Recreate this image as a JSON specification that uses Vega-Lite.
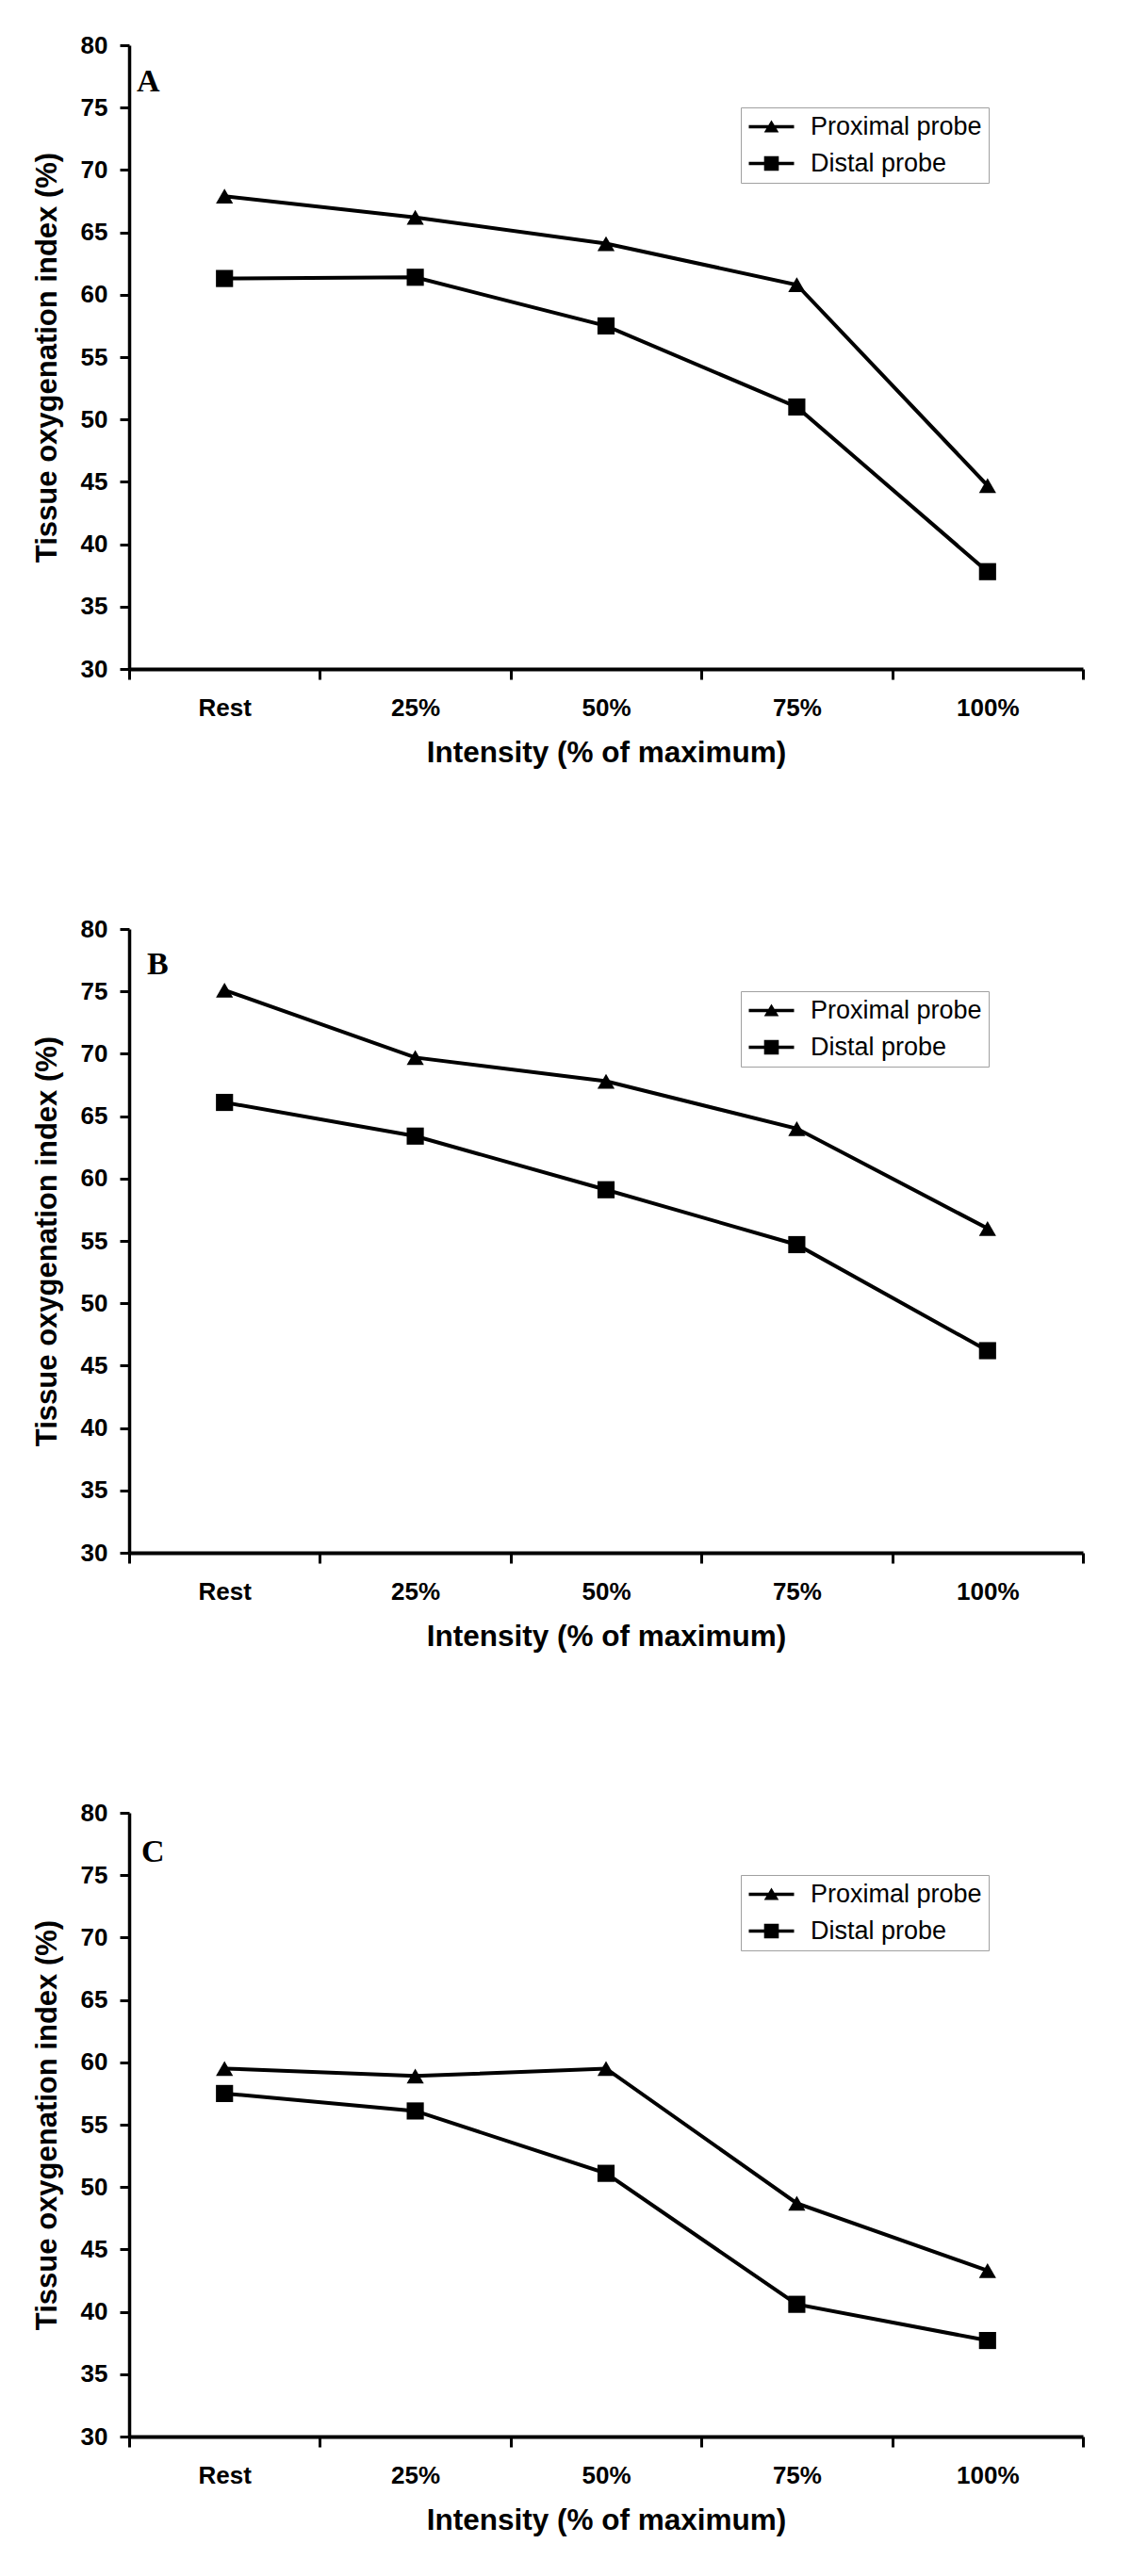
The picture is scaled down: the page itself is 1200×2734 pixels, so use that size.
{
  "$schema": "https://vega.github.io/schema/vega-lite/v6.json",
  "background": "white",
  "padding": {"left": 34, "top": 35, "right": 5, "bottom": 5},
  "data": {"values": [
    {"panel": "A", "intensity": "Rest", "probe": "Proximal probe", "value": 67.9},
    {"panel": "A", "intensity": "25%", "probe": "Proximal probe", "value": 66.2},
    {"panel": "A", "intensity": "50%", "probe": "Proximal probe", "value": 64.1},
    {"panel": "A", "intensity": "75%", "probe": "Proximal probe", "value": 60.8},
    {"panel": "A", "intensity": "100%", "probe": "Proximal probe", "value": 44.7},
    {"panel": "A", "intensity": "Rest", "probe": "Distal probe", "value": 61.3},
    {"panel": "A", "intensity": "25%", "probe": "Distal probe", "value": 61.4},
    {"panel": "A", "intensity": "50%", "probe": "Distal probe", "value": 57.5},
    {"panel": "A", "intensity": "75%", "probe": "Distal probe", "value": 51.0},
    {"panel": "A", "intensity": "100%", "probe": "Distal probe", "value": 37.8},
    {"panel": "B", "intensity": "Rest", "probe": "Proximal probe", "value": 75.1},
    {"panel": "B", "intensity": "25%", "probe": "Proximal probe", "value": 69.7},
    {"panel": "B", "intensity": "50%", "probe": "Proximal probe", "value": 67.8},
    {"panel": "B", "intensity": "75%", "probe": "Proximal probe", "value": 64.0},
    {"panel": "B", "intensity": "100%", "probe": "Proximal probe", "value": 56.0},
    {"panel": "B", "intensity": "Rest", "probe": "Distal probe", "value": 66.1},
    {"panel": "B", "intensity": "25%", "probe": "Distal probe", "value": 63.4},
    {"panel": "B", "intensity": "50%", "probe": "Distal probe", "value": 59.1},
    {"panel": "B", "intensity": "75%", "probe": "Distal probe", "value": 54.7},
    {"panel": "B", "intensity": "100%", "probe": "Distal probe", "value": 46.2},
    {"panel": "C", "intensity": "Rest", "probe": "Proximal probe", "value": 59.5},
    {"panel": "C", "intensity": "25%", "probe": "Proximal probe", "value": 58.9},
    {"panel": "C", "intensity": "50%", "probe": "Proximal probe", "value": 59.5},
    {"panel": "C", "intensity": "75%", "probe": "Proximal probe", "value": 48.7},
    {"panel": "C", "intensity": "100%", "probe": "Proximal probe", "value": 43.3},
    {"panel": "C", "intensity": "Rest", "probe": "Distal probe", "value": 57.5},
    {"panel": "C", "intensity": "25%", "probe": "Distal probe", "value": 56.1},
    {"panel": "C", "intensity": "50%", "probe": "Distal probe", "value": 51.1},
    {"panel": "C", "intensity": "75%", "probe": "Distal probe", "value": 40.6},
    {"panel": "C", "intensity": "100%", "probe": "Distal probe", "value": 37.7}
  ]},
  "resolve": {"scale": {"shape": "independent"}, "legend": {"shape": "independent"}},
  "config": {
    "view": {"stroke": null},
    "font": "Liberation Sans",
    "concat": {"spacing": 158},
    "axis": {
      "grid": false,
      "domainColor": "black",
      "tickColor": "black",
      "tickWidth": 3,
      "labelColor": "black",
      "labelFont": "Liberation Sans",
      "labelFontWeight": "bold",
      "labelFontSize": 26,
      "titleColor": "black",
      "titleFont": "Liberation Sans",
      "titleFontWeight": "bold"
    },
    "axisX": {"domainWidth": 4, "tickSize": 11, "labelPadding": 17, "titlePadding": 19, "titleFontSize": 31.5, "labelAngle": 0, "tickBand": "extent"},
    "axisY": {"domainWidth": 3.5, "tickSize": 10, "labelPadding": 13, "titlePadding": 19, "titleFontSize": 31},
    "title": {"anchor": "start", "frame": "group", "font": "Liberation Serif", "fontWeight": "bold", "fontSize": 34, "color": "black", "baseline": "alphabetic", "offset": 0},
    "legend": {"orient": "none", "legendX": 649, "legendY": 66, "labelFont": "Liberation Sans", "labelFontSize": 27, "labelColor": "black", "labelLimit": 0, "strokeColor": "#a0a0a0", "fillColor": "white", "padding": 7, "rowPadding": 11, "labelOffset": 28, "symbolSize": 576, "symbolStrokeWidth": 0, "symbolOffset": 12, "symbolOpacity": 1, "symbolFillColor": "black", "symbolStrokeColor": "black"}
  },
  "vconcat": [
    {
      "width": 1012, "height": 662,
      "title": {"text": "A", "dx": 8, "dy": 73},
      "transform": [{"filter": "datum.panel === 'A'"}],
      "encoding": {
        "x": {"field": "intensity", "type": "nominal", "sort": ["Rest", "25%", "50%", "75%", "100%"], "scale": {"type": "band", "paddingInner": 0, "paddingOuter": 0}, "axis": {"title": "Intensity (% of maximum)"}},
        "y": {"field": "value", "type": "quantitative", "scale": {"domain": [30, 80], "nice": false, "zero": false}, "axis": {"values": [30, 35, 40, 45, 50, 55, 60, 65, 70, 75, 80], "title": "Tissue oxygenation index (%)"}}
      },
      "resolve": {"scale": {"shape": "independent"}, "legend": {"shape": "independent"}},
      "layer": [
        {"mark": {"type": "line", "color": "black", "strokeWidth": 4}, "encoding": {"detail": {"field": "probe"}}},
        {"mark": {"type": "point", "filled": true, "color": "black", "opacity": 1, "size": 330},
         "encoding": {"shape": {"field": "probe", "type": "nominal", "scale": {"domain": ["Proximal probe", "Distal probe"], "range": ["triangle-up", "square"]}, "legend": null}}},
        {"mark": {"type": "point", "filled": true, "color": "black", "opacity": 0, "size": 576},
         "encoding": {"shape": {"field": "probe", "type": "nominal", "scale": {"domain": ["Proximal probe", "Distal probe"], "range": ["M-2,-0.14H2V0.14H-2ZM0,-0.58L0.65,0.5H-0.65Z", "M-2,-0.14H2V0.14H-2ZM-0.65,-0.65H0.65V0.65H-0.65Z"]},
           "legend": {"title": null}}}}
      ]
    },
    {
      "width": 1012, "height": 662,
      "title": {"text": "B", "dx": 19, "dy": 72},
      "transform": [{"filter": "datum.panel === 'B'"}],
      "encoding": {
        "x": {"field": "intensity", "type": "nominal", "sort": ["Rest", "25%", "50%", "75%", "100%"], "scale": {"type": "band", "paddingInner": 0, "paddingOuter": 0}, "axis": {"title": "Intensity (% of maximum)"}},
        "y": {"field": "value", "type": "quantitative", "scale": {"domain": [30, 80], "nice": false, "zero": false}, "axis": {"values": [30, 35, 40, 45, 50, 55, 60, 65, 70, 75, 80], "title": "Tissue oxygenation index (%)"}}
      },
      "resolve": {"scale": {"shape": "independent"}, "legend": {"shape": "independent"}},
      "layer": [
        {"mark": {"type": "line", "color": "black", "strokeWidth": 4}, "encoding": {"detail": {"field": "probe"}}},
        {"mark": {"type": "point", "filled": true, "color": "black", "opacity": 1, "size": 330},
         "encoding": {"shape": {"field": "probe", "type": "nominal", "scale": {"domain": ["Proximal probe", "Distal probe"], "range": ["triangle-up", "square"]}, "legend": null}}},
        {"mark": {"type": "point", "filled": true, "color": "black", "opacity": 0, "size": 576},
         "encoding": {"shape": {"field": "probe", "type": "nominal", "scale": {"domain": ["Proximal probe", "Distal probe"], "range": ["M-2,-0.14H2V0.14H-2ZM0,-0.58L0.65,0.5H-0.65Z", "M-2,-0.14H2V0.14H-2ZM-0.65,-0.65H0.65V0.65H-0.65Z"]},
           "legend": {"title": null}}}}
      ]
    },
    {
      "width": 1012, "height": 662,
      "title": {"text": "C", "dx": 13, "dy": 76},
      "transform": [{"filter": "datum.panel === 'C'"}],
      "encoding": {
        "x": {"field": "intensity", "type": "nominal", "sort": ["Rest", "25%", "50%", "75%", "100%"], "scale": {"type": "band", "paddingInner": 0, "paddingOuter": 0}, "axis": {"title": "Intensity (% of maximum)"}},
        "y": {"field": "value", "type": "quantitative", "scale": {"domain": [30, 80], "nice": false, "zero": false}, "axis": {"values": [30, 35, 40, 45, 50, 55, 60, 65, 70, 75, 80], "title": "Tissue oxygenation index (%)"}}
      },
      "resolve": {"scale": {"shape": "independent"}, "legend": {"shape": "independent"}},
      "layer": [
        {"mark": {"type": "line", "color": "black", "strokeWidth": 4}, "encoding": {"detail": {"field": "probe"}}},
        {"mark": {"type": "point", "filled": true, "color": "black", "opacity": 1, "size": 330},
         "encoding": {"shape": {"field": "probe", "type": "nominal", "scale": {"domain": ["Proximal probe", "Distal probe"], "range": ["triangle-up", "square"]}, "legend": null}}},
        {"mark": {"type": "point", "filled": true, "color": "black", "opacity": 0, "size": 576},
         "encoding": {"shape": {"field": "probe", "type": "nominal", "scale": {"domain": ["Proximal probe", "Distal probe"], "range": ["M-2,-0.14H2V0.14H-2ZM0,-0.58L0.65,0.5H-0.65Z", "M-2,-0.14H2V0.14H-2ZM-0.65,-0.65H0.65V0.65H-0.65Z"]},
           "legend": {"title": null}}}}
      ]
    }
  ]
}
